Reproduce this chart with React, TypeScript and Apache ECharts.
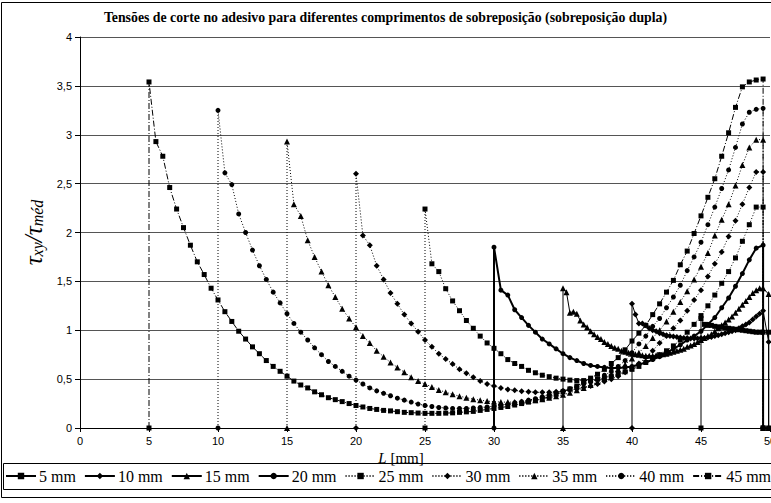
import React, { useEffect, useRef } from 'react';
import * as echarts from 'echarts';

const TITLE = 'Tensões de corte no adesivo para diferentes comprimentos de sobreposição (sobreposição dupla)';
const NAMES = ['5 mm', '10 mm', '15 mm', '20 mm', '25 mm', '30 mm', '35 mm', '40 mm', '45 mm'];
const X_MIN = 0, X_MAX = 50, X_STEP = 5;
const Y_MIN = 0, Y_MAX = 4, Y_STEP = 0.5;

// start position (mm) of each overlap and mesh step
const STARTS = [45, 40, 35, 30, 25, 20, 15, 10, 5];
const STEPS = [0.25, 0.25, 0.25, 0.5, 0.5, 0.5, 0.5, 0.5, 0.5];

const S5 = [1.12, 1.06, 1.05, 1.05, 1.04, 1.035, 1.03, 1.025, 1.02, 1.015,
  1.01, 1.005, 1.0, 0.995, 0.99, 0.985, 0.98, 0.98, 0.98];
const S10 = [1.27, 1.16, 1.07, 1.07, 1.05, 1.02, 1.0, 0.99, 0.97, 0.96,
  0.95, 0.94, 0.935, 0.93, 0.925, 0.92, 0.92, 0.915, 0.915, 0.915,
  0.92, 0.92, 0.925, 0.93, 0.94, 0.95, 0.96, 0.97, 0.98, 0.99,
  1.0, 1.02, 1.04, 1.06, 1.08, 1.11, 1.14, 1.17, 1.2];
const S15 = [1.43, 1.39, 1.18, 1.19, 1.17, 1.1, 1.06, 1.03, 0.99, 0.96,
  0.93, 0.91, 0.88, 0.86, 0.84, 0.82, 0.81, 0.79, 0.78, 0.77,
  0.76, 0.755, 0.75, 0.745, 0.74, 0.74, 0.74, 0.745, 0.75, 0.755,
  0.76, 0.77, 0.78, 0.79, 0.8, 0.81, 0.83, 0.845, 0.86, 0.88,
  0.9, 0.92, 0.94, 0.96, 0.99, 1.02, 1.05, 1.08, 1.11, 1.14,
  1.18, 1.22, 1.26, 1.3, 1.34, 1.38, 1.41, 1.43, 1.43];
const S20 = [1.85, 1.41, 1.36, 1.21, 1.13, 1.05, 0.98, 0.91, 0.86, 0.81,
  0.76, 0.72, 0.69, 0.66, 0.64, 0.63, 0.62, 0.615, 0.615, 0.62,
  0.63, 0.65, 0.67, 0.7, 0.73, 0.77, 0.81, 0.85, 0.9, 0.94,
  0.99, 1.06, 1.13, 1.23, 1.33, 1.45, 1.58, 1.72, 1.84, 1.87];
const S25 = [2.24, 1.68, 1.6, 1.425, 1.3, 1.2, 1.1, 1.02, 0.94, 0.87,
  0.815, 0.76, 0.7, 0.66, 0.63, 0.59, 0.565, 0.54, 0.525, 0.51,
  0.5, 0.49, 0.485, 0.485, 0.49, 0.5, 0.51, 0.53, 0.55, 0.575,
  0.6, 0.63, 0.67, 0.71, 0.75, 0.79, 0.84, 0.9, 0.98, 1.06,
  1.15, 1.25, 1.36, 1.48, 1.6, 1.74, 1.91, 2.08, 2.26, 2.26];
const S30 = [2.6, 1.97, 1.87, 1.66, 1.52, 1.38, 1.27, 1.16, 1.07, 0.985,
  0.9, 0.83, 0.76, 0.705, 0.655, 0.6, 0.56, 0.52, 0.48, 0.45,
  0.43, 0.41, 0.395, 0.385, 0.375, 0.37, 0.365, 0.365, 0.365, 0.37,
  0.375, 0.385, 0.4, 0.415, 0.43, 0.45, 0.475, 0.5, 0.53, 0.57,
  0.61, 0.66, 0.72, 0.79, 0.87, 0.94, 1.02, 1.1, 1.2, 1.31,
  1.41, 1.55, 1.68, 1.8, 1.96, 2.12, 2.29, 2.46, 2.62, 2.62];
const S35 = [2.93, 2.29, 2.17, 1.92, 1.75, 1.6, 1.46, 1.34, 1.22, 1.12,
  1.03, 0.94, 0.87, 0.79, 0.73, 0.67, 0.62, 0.57, 0.52, 0.48,
  0.45, 0.42, 0.39, 0.365, 0.345, 0.325, 0.31, 0.295, 0.285, 0.275,
  0.27, 0.265, 0.265, 0.265, 0.27, 0.275, 0.285, 0.295, 0.31, 0.325,
  0.34, 0.36, 0.385, 0.41, 0.44, 0.47, 0.51, 0.55, 0.6, 0.65,
  0.71, 0.77, 0.84, 0.92, 1.0, 1.09, 1.19, 1.29, 1.4, 1.52,
  1.65, 1.79, 1.97, 2.13, 2.29, 2.48, 2.69, 2.87, 2.95, 2.95];
const S40 = [3.25, 2.61, 2.49, 2.19, 2.0, 1.82, 1.66, 1.52, 1.39, 1.28,
  1.17, 1.07, 0.98, 0.9, 0.82, 0.75, 0.68, 0.63, 0.58, 0.53,
  0.49, 0.45, 0.41, 0.38, 0.355, 0.33, 0.305, 0.285, 0.265, 0.245,
  0.23, 0.22, 0.21, 0.205, 0.2, 0.2, 0.2, 0.205, 0.21, 0.215,
  0.225, 0.235, 0.245, 0.26, 0.27, 0.285, 0.3, 0.32, 0.34, 0.36,
  0.38, 0.4, 0.425, 0.45, 0.47, 0.5, 0.54, 0.58, 0.63, 0.69,
  0.77, 0.86, 0.94, 1.04, 1.12, 1.23, 1.34, 1.46, 1.61, 1.75,
  1.9, 2.08, 2.26, 2.45, 2.64, 2.87, 3.11, 3.23, 3.26, 3.27];
const S45 = [3.54, 2.93, 2.78, 2.46, 2.24, 2.05, 1.87, 1.7, 1.57, 1.43,
  1.31, 1.19, 1.09, 0.99, 0.91, 0.83, 0.76, 0.69, 0.63, 0.58,
  0.53, 0.48, 0.44, 0.41, 0.37, 0.34, 0.31, 0.29, 0.27, 0.25,
  0.23, 0.215, 0.2, 0.19, 0.18, 0.175, 0.167, 0.16, 0.157, 0.153,
  0.15, 0.15, 0.15, 0.152, 0.155, 0.16, 0.165, 0.17, 0.18, 0.19,
  0.2, 0.21, 0.22, 0.235, 0.25, 0.265, 0.28, 0.3, 0.32, 0.345,
  0.37, 0.4, 0.43, 0.47, 0.51, 0.55, 0.6, 0.66, 0.72, 0.8,
  0.89, 0.97, 1.05, 1.16, 1.27, 1.39, 1.51, 1.67, 1.81, 1.99,
  2.17, 2.36, 2.55, 2.78, 3.02, 3.28, 3.49, 3.54, 3.56, 3.57];
const VALUES = [S5, S10, S15, S20, S25, S30, S35, S40, S45];
// extra points just before the end of the overlap (x, value)
const TAILS: number[][][] = [[[49.9, 0.98]], [[49.9, 0.88]], [[49.9, 1.37]], [], [], [], [], [], []];

const SYMBOLS = ['rect', 'diamond', 'triangle', 'circle', 'rect', 'diamond', 'triangle', 'circle', 'rect'];
const SYMBOL_SIZES = [5, 6, 6, 5, 5, 6, 6, 5, 5];
const DOTTED = [1, 2];
const DASHDOT = [6, 2, 1, 2];
const LINE_TYPES: any[] = ['solid', 'solid', 'solid', 'solid', DOTTED, DOTTED, DOTTED, DOTTED, DASHDOT];
const LINE_WIDTHS = [1, 1, 1, 2, 1, 1, 1, 1, 1];

function buildPoints(i: number) {
  const start = STARTS[i];
  const step = STEPS[i];
  const pts: number[][] = [[start, 0]];
  VALUES[i].forEach((v, k) => pts.push([start + k * step, v]));
  TAILS[i].forEach((p) => pts.push(p));
  pts.push([pts[pts.length - 1][0], 0]);
  return pts;
}

const SERIF = 'Liberation Serif, Times New Roman, serif';
const SANS = 'Liberation Sans, Arial, sans-serif';

export default function App() {
  const ref = useRef<HTMLDivElement>(null);
  useEffect(() => {
    if (!ref.current) return;
    const chart = echarts.init(ref.current, null, { renderer: 'svg' });
    const series = NAMES.map((name, i) => ({
      name,
      type: 'line',
      data: buildPoints(i),
      symbol: SYMBOLS[i],
      symbolSize: SYMBOL_SIZES[i],
      showSymbol: true,
      showAllSymbol: true,
      lineStyle: { color: '#000', width: LINE_WIDTHS[i], type: LINE_TYPES[i] },
      itemStyle: { color: '#000' },
      emphasis: { disabled: true },
      clip: false,
    }));
    chart.setOption({
      animation: false,
      backgroundColor: '#fff',
      title: {
        text: TITLE,
        left: 'center',
        top: 5,
        textStyle: { fontFamily: SERIF, fontWeight: 'bold', fontSize: 13.8, color: '#000' },
      },
      grid: { left: 80, right: 1, top: 37, bottom: 75, outerBoundsMode: 'none', containLabel: false },
      xAxis: {
        type: 'value',
        min: X_MIN,
        max: X_MAX,
        interval: X_STEP,
        name: '{i|L} [mm]',
        nameLocation: 'middle',
        nameGap: 20,
        nameTextStyle: {
          fontFamily: SERIF, fontSize: 15, color: '#000',
          padding: [0, 48, 0, 0],
          rich: { i: { fontFamily: SERIF, fontStyle: 'italic', fontSize: 15, color: '#000' } },
        },
        axisLine: { onZero: false, lineStyle: { color: '#000', width: 1 } },
        axisTick: { show: true, length: 4, lineStyle: { color: '#000' } },
        axisLabel: { fontFamily: SANS, fontSize: 11, color: '#000', margin: 7 },
        splitLine: { show: false },
      },
      yAxis: {
        type: 'value',
        min: Y_MIN,
        max: Y_MAX,
        interval: Y_STEP,
        name: '{t|τ}{s|xy}{t|/}{t|τ}{s|méd}',
        nameLocation: 'middle',
        nameRotate: 90,
        nameGap: 30,
        nameTextStyle: {
          rich: {
            t: { fontFamily: SERIF, fontStyle: 'italic', fontSize: 25, lineHeight: 25, verticalAlign: 'top', color: '#000' },
            s: { fontFamily: SERIF, fontStyle: 'italic', fontSize: 16, lineHeight: 16, verticalAlign: 'bottom', padding: [13, 0, 0, 0], color: '#000' },
          },
        },
        axisLine: { show: true, lineStyle: { color: '#000', width: 1 } },
        axisTick: { show: true, length: 5, lineStyle: { color: '#000' } },
        axisLabel: {
          fontFamily: SANS, fontSize: 11, color: '#000', margin: 8,
          formatter: (v: number) => String(v).replace('.', ','),
        },
        splitLine: { show: true, lineStyle: { color: '#555', width: 1 } },
      },
      legend: {
        data: NAMES,
        left: 5,
        top: 468,
        padding: 0,
        width: 1000,
        itemWidth: 30,
        itemHeight: 8,
        itemGap: 8,
        selectedMode: false,
        textStyle: { fontFamily: SERIF, fontSize: 16, color: '#000', padding: [0, 0, 0, -2] },
      },
      graphic: [
        { type: 'rect', silent: true, shape: { x: 1.5, y: 2.5, width: 800, height: 495 }, style: { fill: 'none', stroke: '#000', lineWidth: 1 } },
        { type: 'rect', silent: true, shape: { x: 3.5, y: 463.5, width: 800, height: 26 }, style: { fill: 'none', stroke: '#000', lineWidth: 1 } },
      ],
      series,
    });
    return () => chart.dispose();
  }, []);
  return <div ref={ref} style={{ position: 'fixed', left: 0, top: 0, width: 771, height: 503, background: '#fff' }} />;
}
